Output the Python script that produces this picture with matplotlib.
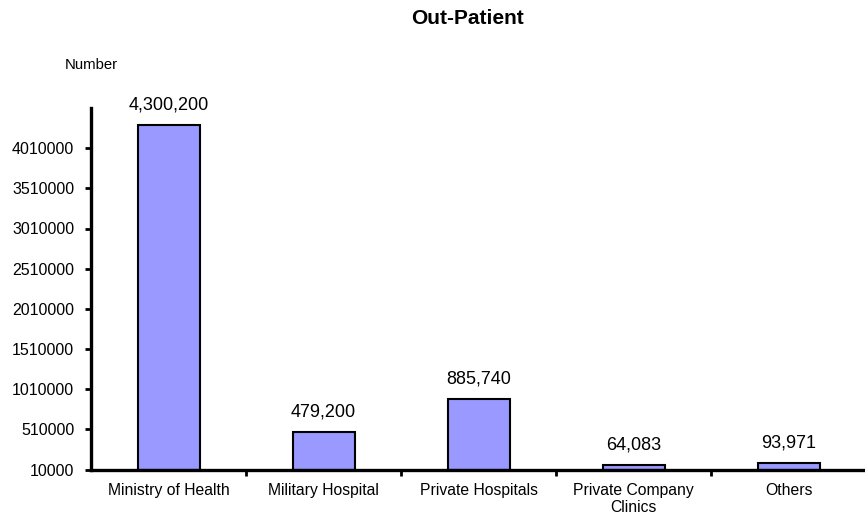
import matplotlib
matplotlib.use("Agg")
import matplotlib.pyplot as plt
import numpy as np

plt.rcParams["font.family"] = ["Liberation Sans", "DejaVu Sans"]

categories = ["Ministry of Health", "Military Hospital", "Private Hospitals",
              "Private Company\nClinics", "Others"]
values = [4300200, 479200, 885740, 64083, 93971]
y_ticks = [10000, 510000, 1010000, 1510000, 2010000, 2510000,
           3010000, 3510000, 4010000]

fig = plt.figure(figsize=(8.65, 5.15), dpi=100)
ax = fig.add_axes([91 / 865, 1 - 469.5 / 515, 775 / 865, 361.5 / 515])

x = np.arange(len(categories)) + 0.5
ax.bar(x, values, width=0.4, color="#9999FF", edgecolor="black",
       linewidth=1.5, zorder=2)

for xi, v in zip(x, values):
    ax.annotate(f"{v:,}", (xi, v), xytext=(0, 11), textcoords="offset points",
                ha="center", va="baseline", fontsize=13)

ax.set_xlim(0, len(categories))
ax.set_ylim(10000, 4510000)
ax.set_yticks(y_ticks)
ax.set_yticklabels([str(t) for t in y_ticks], fontsize=11.5)
ax.set_xticks(x)
ax.set_xticklabels(categories, fontsize=11.3, linespacing=1.15)
ax.set_xticks(np.arange(1, len(categories)), minor=True)
ax.tick_params(axis="x", which="major", length=0, pad=10)
ax.tick_params(axis="x", which="minor", length=4, width=2, direction="out")
ax.tick_params(axis="y", length=4, width=2, pad=8)

for s in ["top", "right"]:
    ax.spines[s].set_visible(False)
for s in ["left", "bottom"]:
    ax.spines[s].set_linewidth(2.4)

fig.text(467.5 / 865, 1 - 18.5 / 515, "Out-Patient", ha="center", va="center",
         fontsize=15, fontweight="bold")
fig.text(91.5 / 865, 1 - 65 / 515, "Number", ha="center", va="center",
         fontsize=10.7)

fig.savefig("out.png", dpi=100)
